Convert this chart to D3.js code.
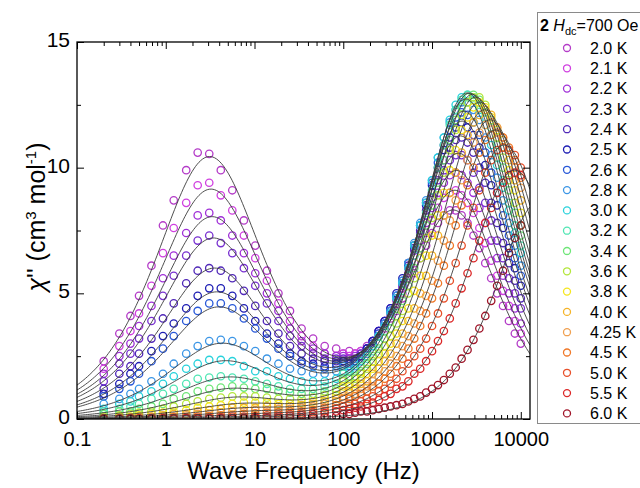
<!DOCTYPE html>
<html><head><meta charset="utf-8">
<script src="https://cdn.jsdelivr.net/npm/d3@7"></script>
<style>
html,body{margin:0;padding:0;background:#fff;}
svg{display:block;font-family:"Liberation Sans",Arial,sans-serif;}
</style></head><body>
<svg id="chart" width="640" height="488"></svg>
<script>
const temperatures = ["2.0 K","2.1 K","2.2 K","2.3 K","2.4 K","2.5 K","2.6 K","2.8 K","3.0 K","3.2 K","3.4 K","3.6 K","3.8 K","4.0 K","4.25 K","4.5 K","5.0 K","5.5 K","6.0 K"];
const colors = ["#b43cc8","#d040e0","#a030d8","#7830d0","#5028b8","#1e1eb4","#2858d8","#3c96e6","#28d2dc","#50e6b4","#6ee678","#b4e63c","#f5e61e","#f5b428","#f0a050","#f07828","#e8502a","#dc2828","#a01428"];

// measured frequencies (Hz)
const freqLow = [0.2,0.3,0.4,0.5,0.69,0.93,1.23,1.7,2.29,3.09,4.17,5.62,7.59,10.2,13.8,18.6,25.1,33.9,45.7,61.7,83.2];
const freqHigh = [100,117,136,158,185,215,251,293,341,398,464,541,631,736,858,1000,1166,1359,1585,1848,2154,2512,2929,3415,3981,4642,5412,6310,7356,8577,10000];

// chi'' data (cm3 mol-1), one row per temperature
const chiLow = [
[2.3,3.4,4.1,4.9,6.1,7.7,8.7,9.9,10.6,10.55,9.9,9.1,7.9,6.9,5.9,5.0,4.3,3.6,3.2,2.9,2.8],
[2.0,2.9,3.5,4.2,5.3,6.6,7.6,8.6,9.3,9.4,8.9,8.3,7.3,6.4,5.5,4.6,3.9,3.3,2.9,2.6,2.5],
[1.8,2.5,3.0,3.7,4.5,5.6,6.5,7.4,8.1,8.2,7.9,7.3,6.6,5.8,5.0,4.3,3.6,3.1,2.8,2.6,2.5],
[1.5,2.2,2.6,3.2,3.9,4.9,5.7,6.5,7.1,7.3,7.0,6.6,6.0,5.3,4.6,3.9,3.3,2.9,2.6,2.4,2.4],
[1.2,1.8,2.1,2.6,3.2,4.0,4.6,5.4,5.9,6.0,5.9,5.6,5.1,4.5,3.9,3.4,2.9,2.6,2.4,2.3,2.3],
[1.0,1.4,1.8,2.1,2.7,3.3,3.8,4.4,4.9,5.2,5.2,4.9,4.4,3.9,3.4,3.0,2.6,2.3,2.2,2.1,2.2],
[0.9,1.2,1.5,1.8,2.3,2.8,3.3,3.9,4.3,4.6,4.6,4.4,4.0,3.6,3.2,2.8,2.5,2.2,2.1,2.0,2.1],
[0.6,0.8,1.0,1.2,1.5,1.8,2.2,2.6,2.9,3.1,3.15,3.1,2.9,2.7,2.4,2.2,2.0,1.9,1.8,1.8,1.9],
[0.4,0.6,0.7,0.9,1.1,1.4,1.7,2.0,2.2,2.35,2.35,2.3,2.1,1.9,1.9,1.7,1.6,1.5,1.5,1.5,1.6],
[0.3,0.4,0.5,0.6,0.8,1.0,1.2,1.4,1.6,1.65,1.7,1.65,1.6,1.5,1.4,1.3,1.2,1.2,1.2,1.3,1.4],
[0.2,0.3,0.3,0.4,0.5,0.6,0.8,0.9,1.1,1.2,1.25,1.3,1.25,1.2,1.2,1.1,1.05,1.0,1.0,1.1,1.2],
[0.1,0.15,0.2,0.25,0.3,0.4,0.5,0.6,0.7,0.8,0.85,0.9,0.9,0.9,0.85,0.8,0.8,0.8,0.85,0.95,1.1],
[0.05,0.1,0.1,0.15,0.2,0.25,0.3,0.35,0.45,0.5,0.55,0.6,0.65,0.65,0.65,0.6,0.6,0.65,0.7,0.8,0.95],
[0.04,0.05,0.07,0.1,0.1,0.15,0.2,0.2,0.3,0.35,0.4,0.45,0.45,0.45,0.5,0.5,0.5,0.55,0.6,0.7,0.8],
[0.03,0.03,0.05,0.05,0.08,0.1,0.1,0.15,0.2,0.2,0.25,0.3,0.3,0.35,0.35,0.4,0.4,0.45,0.5,0.6,0.7],
[0.02,0.02,0.03,0.03,0.05,0.05,0.07,0.08,0.1,0.12,0.15,0.17,0.2,0.22,0.25,0.27,0.3,0.3,0.35,0.45,0.55],
[0.02,0.01,0.02,0.02,0.03,0.03,0.04,0.05,0.05,0.06,0.08,0.1,0.1,0.12,0.15,0.18,0.2,0.22,0.27,0.32,0.42],
[0.01,0.01,0.02,0.01,0.02,0.02,0.02,0.03,0.03,0.03,0.04,0.04,0.05,0.06,0.08,0.1,0.13,0.15,0.19,0.24,0.3],
[0.01,0.01,0.01,0.01,0.01,0.02,0.02,0.02,0.02,0.02,0.02,0.02,0.03,0.03,0.03,0.04,0.05,0.06,0.07,0.09,0.12]
];
const chiHigh = [
[2.6,2.7,2.6,2.7,2.9,3.0,3.3,3.6,4.0,4.3,4.8,5.3,5.8,6.4,6.9,7.4,7.8,8.1,8.3,8.3,8.1,7.8,7.3,6.8,6.2,5.6,5.0,4.5,3.9,3.4,3.0],
[2.6,2.5,2.6,2.7,2.8,3.1,3.4,3.7,4.1,4.5,5.0,5.6,6.2,6.8,7.4,7.9,8.4,8.8,9.0,9.1,8.9,8.6,8.2,7.6,7.0,6.3,5.7,5.1,4.5,3.9,3.4],
[2.5,2.4,2.5,2.6,2.8,3.1,3.5,3.8,4.2,4.7,5.2,5.8,6.5,7.1,7.8,8.4,9.0,9.4,9.7,9.8,9.7,9.4,9.0,8.4,7.8,7.1,6.4,5.7,5.0,4.4,3.8],
[2.4,2.3,2.4,2.6,2.8,3.1,3.5,3.9,4.3,4.8,5.3,6.0,6.7,7.4,8.1,8.8,9.5,9.9,10.3,10.5,10.5,10.3,9.8,9.2,8.6,7.9,7.1,6.4,5.6,5.0,4.4],
[2.3,2.2,2.3,2.5,2.8,3.1,3.5,3.9,4.4,4.9,5.4,6.1,6.8,7.5,8.3,9.0,9.7,10.3,10.8,11.1,11.2,11.0,10.6,10.0,9.4,8.6,7.8,7.0,6.2,5.5,4.8],
[2.3,2.2,2.3,2.5,2.8,3.1,3.5,3.9,4.4,5.0,5.6,6.2,6.9,7.7,8.5,9.3,10.0,10.7,11.2,11.6,11.8,11.6,11.3,10.8,10.1,9.3,8.5,7.6,6.8,6.0,5.3],
[2.2,2.1,2.2,2.4,2.7,3.0,3.4,3.8,4.3,4.9,5.5,6.2,6.9,7.7,8.6,9.4,10.2,10.9,11.5,12.0,12.2,12.1,11.8,11.3,10.6,9.8,9.0,8.1,7.3,6.4,5.7],
[2.1,2.0,2.1,2.3,2.6,2.9,3.3,3.8,4.3,4.9,5.5,6.2,7.0,7.8,8.7,9.5,10.4,11.2,11.8,12.3,12.6,12.6,12.3,11.9,11.2,10.5,9.6,8.7,7.8,6.9,6.1],
[1.9,1.9,2.0,2.3,2.5,2.9,3.3,3.7,4.2,4.8,5.4,6.0,6.9,7.7,8.6,9.5,10.4,11.2,11.9,12.5,12.8,12.9,12.7,12.3,11.7,10.9,10.1,9.2,8.3,7.4,6.6],
[1.8,1.7,1.9,2.1,2.4,2.7,3.0,3.5,3.9,4.5,5.1,5.7,6.5,7.3,8.2,9.1,10.0,10.9,11.7,12.3,12.7,12.9,12.8,12.5,12.0,11.3,10.4,9.5,8.6,7.7,6.9],
[1.6,1.6,1.7,1.9,2.2,2.5,2.8,3.2,3.6,4.1,4.7,5.3,6.0,6.8,7.7,8.5,9.4,10.3,11.1,11.9,12.4,12.8,12.9,12.7,12.2,11.6,10.9,10.0,9.1,8.2,7.3],
[1.5,1.4,1.6,1.8,2.0,2.3,2.6,2.9,3.3,3.8,4.3,5.0,5.6,6.4,7.2,8.0,8.9,9.8,10.7,11.5,12.1,12.6,12.8,12.8,12.5,11.9,11.2,10.4,9.5,8.6,7.7],
[1.3,1.3,1.4,1.6,1.8,2.0,2.3,2.6,3.0,3.4,3.9,4.4,5.1,5.7,6.5,7.3,8.1,9.0,9.9,10.7,11.5,12.0,12.4,12.6,12.4,12.0,11.5,10.8,9.9,9.1,8.2],
[1.1,1.1,1.2,1.4,1.5,1.8,2.0,2.3,2.6,3.0,3.4,3.9,4.4,5.0,5.7,6.5,7.3,8.1,9.0,9.8,10.6,11.3,11.8,12.1,12.3,12.1,11.6,11.1,10.3,9.5,8.7],
[0.9,0.9,1.0,1.2,1.3,1.5,1.7,1.9,2.2,2.5,2.9,3.3,3.8,4.3,4.9,5.5,6.3,7.1,7.9,8.7,9.5,10.3,11.0,11.4,11.7,11.8,11.6,11.2,10.7,10.0,9.2],
[0.8,0.8,0.9,1.0,1.1,1.3,1.4,1.6,1.8,2.1,2.4,2.8,3.2,3.7,4.2,4.8,5.4,6.1,6.9,7.7,8.5,9.3,10.0,10.6,11.1,11.3,11.4,11.2,10.8,10.3,9.6],
[0.5,0.6,0.6,0.7,0.8,0.9,1.1,1.2,1.4,1.6,1.9,2.2,2.5,2.8,3.2,3.7,4.2,4.8,5.5,6.2,6.9,7.7,8.4,9.1,9.8,10.3,10.7,10.8,10.7,10.5,10.0],
[0.35,0.4,0.45,0.5,0.6,0.65,0.75,0.9,1.0,1.2,1.3,1.5,1.8,2.0,2.3,2.7,3.1,3.5,4.0,4.6,5.2,5.8,6.4,7.1,7.8,8.4,9.0,9.4,9.7,9.8,9.7],
[0.2,0.2,0.25,0.3,0.3,0.35,0.4,0.45,0.5,0.55,0.6,0.7,0.8,0.9,1.05,1.2,1.35,1.55,1.8,2.05,2.4,2.75,3.15,3.6,4.1,4.7,5.3,5.9,6.6,7.2,7.7]
];

// fitted two-process generalized Debye parameters (peak frequency, peak height, alpha)
const lfPeakHz = [3.1,3.2,3.3,3.4,3.5,3.7,3.9,4.2,4.5,5,5.5,6,7,8,9,10,12,15,20];
const lfPeakChi = [10.4,9.1,8.0,7.15,5.95,5.0,4.4,2.95,2.25,1.6,1.15,0.8,0.55,0.38,0.25,0.15,0.08,0.04,0.02];
const lfAlpha = [0.15,0.15,0.15,0.15,0.15,0.15,0.15,0.15,0.15,0.15,0.15,0.15,0.15,0.15,0.15,0.15,0.15,0.15,0.15];
const hfPeakHz = [1750,1820,1900,2000,2100,2200,2300,2400,2500,2650,2850,3100,3450,3900,4500,5200,6500,8500,15500];
const hfPeakChi = [8.2,9.0,9.8,10.5,11.2,11.8,12.2,12.7,12.95,12.95,12.9,12.8,12.6,12.3,11.9,11.5,10.9,9.9,8.6];
const hfAlpha = [0.05,0.05,0.05,0.05,0.05,0.05,0.05,0.05,0.05,0.05,0.05,0.05,0.05,0.05,0.05,0.05,0.05,0.05,0.0];

const xMajorTicks = [0.1,1,10,100,1000,10000];
const yMajorTicks = [0,5,10,15];
const yMinorTicks = [2.5,7.5,12.5];

const L = 77, R = 530, T = 42, B = 419;
const x = d3.scaleLog().domain([0.1, 12700]).range([L, R]);
const y = d3.scaleLinear().domain([0, 15]).range([B, T]);
const svg = d3.select("#chart");

svg.append("defs").append("clipPath").attr("id","clip")
  .append("rect").attr("x",L).attr("y",T).attr("width",R-L).attr("height",B-T);

function coleCole(f, fp, h, a){
  const s = Math.sin(a*Math.PI/2);
  const u = Math.pow(f/fp, 1-a);
  return h*2*u*(1+s)/(1+2*u*s+u*u);
}

const plot = svg.append("g").attr("clip-path","url(#clip)");

// data points
temperatures.forEach((t,i)=>{
  const pts = freqLow.map((f,j)=>[f, chiLow[i][j]]).concat(freqHigh.map((f,j)=>[f, chiHigh[i][j]]));
  plot.append("g").selectAll("circle").data(pts).join("circle")
    .attr("cx",d=>x(d[0])).attr("cy",d=>y(d[1])).attr("r",3.7)
    .attr("fill","none").attr("stroke",colors[i]).attr("stroke-width",1.3);
});

// fit curves
const nS = 260;
const fitGrid = d3.range(nS+1).map(k => Math.pow(10, Math.log10(0.1) + k*(Math.log10(12700)-Math.log10(0.1))/nS));
const line = d3.line().x(d=>x(d[0])).y(d=>y(d[1]));
temperatures.forEach((t,i)=>{
  const pts = fitGrid.map(f => [f, coleCole(f, lfPeakHz[i], lfPeakChi[i], lfAlpha[i]) + coleCole(f, hfPeakHz[i], hfPeakChi[i], hfAlpha[i])]);
  plot.append("path").attr("d", line(pts)).attr("fill","none")
    .attr("stroke","#3c3c3c").attr("stroke-width",1).attr("stroke-opacity",0.9);
});

// axes
const xMinorTicks = [];
[0.1,1,10,100,1000,10000].forEach(d => { for (let m=2;m<=9;m++){ const v=m*d; if (v<=12700) xMinorTicks.push(v); } });

function styleAxis(g){ g.select(".domain").remove(); g.selectAll("line").attr("stroke","#000").attr("stroke-width",1); }

svg.append("g").attr("transform",`translate(0,${B})`)
  .call(d3.axisBottom(x).tickValues(xMajorTicks).tickSize(-7).tickPadding(13).tickFormat(d=>String(d)))
  .call(styleAxis)
  .call(g=>g.selectAll("text").attr("font-size",20).attr("fill","#000").attr("font-family","'Liberation Sans',Arial,sans-serif"));
svg.append("g").attr("transform",`translate(0,${B})`)
  .call(d3.axisBottom(x).tickValues(xMinorTicks).tickSize(-4).tickFormat(""))
  .call(styleAxis);
svg.append("g").attr("transform",`translate(0,${T})`)
  .call(d3.axisTop(x).tickValues(xMajorTicks).tickSize(-7).tickFormat(""))
  .call(styleAxis);
svg.append("g").attr("transform",`translate(0,${T})`)
  .call(d3.axisTop(x).tickValues(xMinorTicks).tickSize(-4).tickFormat(""))
  .call(styleAxis);

svg.append("g").attr("transform",`translate(${L},0)`)
  .call(d3.axisLeft(y).tickValues(yMajorTicks).tickSize(-7).tickPadding(7).tickFormat(d=>String(d)))
  .call(styleAxis)
  .call(g=>g.selectAll("text").attr("font-size",21).attr("dy","0.22em").attr("fill","#000").attr("font-family","'Liberation Sans',Arial,sans-serif"));
svg.append("g").attr("transform",`translate(${L},0)`)
  .call(d3.axisLeft(y).tickValues(yMinorTicks).tickSize(-4).tickFormat(""))
  .call(styleAxis);
svg.append("g").attr("transform",`translate(${R},0)`)
  .call(d3.axisRight(y).tickValues(yMajorTicks).tickSize(-7).tickFormat(""))
  .call(styleAxis);
svg.append("g").attr("transform",`translate(${R},0)`)
  .call(d3.axisRight(y).tickValues(yMinorTicks).tickSize(-4).tickFormat(""))
  .call(styleAxis);

svg.append("rect").attr("x",L).attr("y",T).attr("width",R-L).attr("height",B-T)
  .attr("fill","none").attr("stroke","#000").attr("stroke-width",1.3);

// axis titles
svg.append("text").attr("x",(L+R)/2).attr("y",479).attr("text-anchor","middle")
  .attr("font-size",24).attr("fill","#000").text("Wave Frequency (Hz)");

const yt = svg.append("text").attr("transform","translate(45,217) rotate(-90)")
  .attr("text-anchor","middle").attr("font-size",25).attr("fill","#000");
yt.append("tspan").attr("font-style","italic").text("χ");
yt.append("tspan").text("'' (cm");
yt.append("tspan").attr("font-size",15).attr("dy",-9).text("3");
yt.append("tspan").attr("dy",9).text(" mol");
yt.append("tspan").attr("font-size",15).attr("dy",-9).text("-1");
yt.append("tspan").attr("dy",9).text(")");

// legend
const lg = svg.append("g");
lg.append("rect").attr("x",537.5).attr("y",12.5).attr("width",120).attr("height",411)
  .attr("fill","#fff").attr("stroke","#8a8a8a").attr("stroke-width",1);
const lt = lg.append("text").attr("x",540).attr("y",31).attr("font-size",16).attr("fill","#000");
lt.append("tspan").attr("font-weight","bold").text("2");
lt.append("tspan").text(" ");
lt.append("tspan").attr("font-style","italic").text("H");
lt.append("tspan").attr("font-size",11).attr("dy",4).text("dc");
lt.append("tspan").attr("dy",-4).text("=700 Oe");

temperatures.forEach((t,i)=>{
  const yy = 48 + i*20.3;
  lg.append("circle").attr("cx",567).attr("cy",yy).attr("r",3.5)
    .attr("fill","none").attr("stroke",colors[i]).attr("stroke-width",1.3);
  lg.append("text").attr("x",590).attr("y",yy).attr("dy","0.36em")
    .attr("font-size",16).attr("fill","#000").text(t);
});
</script>
</body></html>
